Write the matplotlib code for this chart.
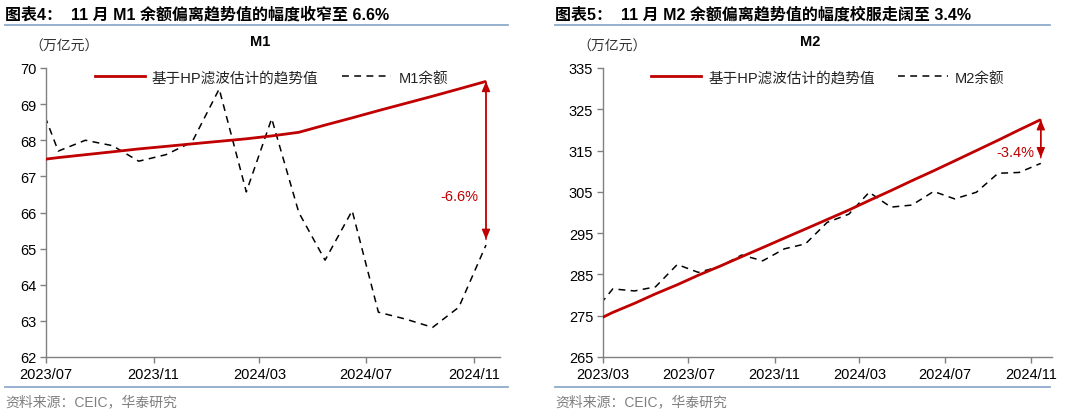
import matplotlib
matplotlib.use("Agg")
import matplotlib.pyplot as plt
import matplotlib.dates as mdates
from matplotlib.lines import Line2D
import numpy as np
import pandas as pd

plt.rcParams['font.family'] = ['Liberation Sans', 'Noto Sans CJK SC', 'DejaVu Sans']
plt.rcParams['axes.unicode_minus'] = False

# ---------------- data ----------------
m1_months = ['2023-06', '2023-07', '2023-08', '2023-09', '2023-10', '2023-11', '2023-12',
             '2024-01', '2024-02', '2024-03', '2024-04', '2024-05', '2024-06', '2024-07',
             '2024-08', '2024-09', '2024-10', '2024-11']
m1_balance = [69.6, 67.7, 68.0, 67.85, 67.42, 67.6, 67.95,
              69.42, 66.57, 68.6, 66.0, 64.68, 66.05, 63.24,
              63.05, 62.82, 63.38, 65.1]
m1_trend = [67.43, 67.52, 67.60, 67.68, 67.76, 67.83, 67.90,
            67.97, 68.04, 68.12, 68.22, 68.42, 68.62, 68.82,
            69.02, 69.22, 69.42, 69.63]

m2_months = ['2023-02', '2023-03', '2023-04', '2023-05', '2023-06', '2023-07', '2023-08',
             '2023-09', '2023-10', '2023-11', '2023-12', '2024-01', '2024-02', '2024-03',
             '2024-04', '2024-05', '2024-06', '2024-07', '2024-08', '2024-09', '2024-10',
             '2024-11']
m2_balance = [275.7, 281.5, 281.0, 282.0, 287.4, 285.5, 286.9,
              289.7, 288.3, 291.2, 292.4, 297.6, 299.6, 304.9,
              301.3, 301.8, 305.1, 303.3, 304.9, 309.5, 309.7,
              311.9]
m2_trend = [273.5, 275.8, 278.0, 280.3, 282.5, 284.8, 287.0,
            289.3, 291.5, 293.8, 296.0, 298.3, 300.6, 302.9,
            305.3, 307.7, 310.1, 312.5, 315.0, 317.5, 320.0,
            322.5]

m1_gap_label = '-6.6%'
m2_gap_label = '-3.4%'

RED = '#C00000'
GRID_GRAY = '#808080'
LINE_BLUE = '#8eaacb'


def mid_month(months):
    return pd.to_datetime([m + '-15' for m in months])


fig = plt.figure(figsize=(10.8, 4.14), dpi=100)
W, H = 1080, 414


def px_axes(x0, y0, x1, y1):
    return fig.add_axes([x0 / W, 1 - y1 / H, (x1 - x0) / W, (y1 - y0) / H])


def style_axes(ax):
    for s in ['top', 'right']:
        ax.spines[s].set_visible(False)
    for s in ['left', 'bottom']:
        ax.spines[s].set_color(GRID_GRAY)
        ax.spines[s].set_linewidth(1.0)
    ax.tick_params(axis='both', direction='out', length=4, width=1.0,
                   color=GRID_GRAY, labelsize=10.5, labelcolor='black')
    ax.tick_params(axis='x', pad=3)
    ax.tick_params(axis='y', pad=3)
    ax.xaxis.set_major_locator(mdates.MonthLocator(bymonth=[3, 7, 11]))
    ax.xaxis.set_major_formatter(mdates.DateFormatter('%Y/%m'))


def draw_panel(ax, months, bal, trend, name, gap_label, ylim, yticks, xlim,
               label_pos, shrinkB):
    x = mid_month(months)
    ax.plot(x, trend, color=RED, lw=2.0, solid_capstyle='butt', zorder=3)
    ax.plot(x, bal, color='black', lw=1.1, linestyle=(0, (4.5, 3.5)), zorder=2)
    ax.set_xlim(pd.Timestamp(xlim[0]), pd.Timestamp(xlim[1]))
    ax.set_ylim(*ylim)
    ax.set_yticks(yticks)
    style_axes(ax)
    ax.annotate('', xy=(x[-1], bal[-1]), xytext=(x[-1], trend[-1]),
                arrowprops=dict(arrowstyle='-|>,head_length=0.6,head_width=0.25',
                                color=RED, lw=1.0, shrinkA=0, shrinkB=shrinkB),
                zorder=4)
    ax.annotate('', xy=(x[-1], trend[-1]), xytext=(x[-1], bal[-1]),
                arrowprops=dict(arrowstyle='-|>,head_length=0.6,head_width=0.25',
                                color=RED, lw=1.0, shrinkA=shrinkB, shrinkB=0),
                zorder=4)
    ax.text(pd.Timestamp(label_pos[0]), label_pos[1], gap_label, color=RED,
            fontsize=10.5, ha='center', va='center', zorder=5)
    handles = [Line2D([], [], color=RED, lw=2.0),
               Line2D([], [], color='black', lw=1.1, linestyle=(0, (4.5, 3.5)))]
    labels = ['基于HP滤波估计的趋势值', name + '余额']
    leg = ax.legend(handles, labels, loc='upper left', bbox_to_anchor=(0.095, 1.012),
                    ncol=2, frameon=False, fontsize=10.5, handlelength=3.4,
                    handletextpad=0.5, columnspacing=1.6, borderaxespad=0)
    for t in leg.get_texts():
        t.set_color('#222222')


# left panel
ax1 = px_axes(46, 69, 500, 358)
draw_panel(ax1, m1_months, m1_balance, m1_trend, 'M1', m1_gap_label,
           (62, 70), np.arange(62, 71, 1), ('2023-07-01', '2024-12-01'),
           ('2024-10-15', 66.45), 4)

# right panel
ax2 = px_axes(603, 69, 1052, 358)
draw_panel(ax2, m2_months, m2_balance, m2_trend, 'M2', m2_gap_label,
           (265, 335), np.arange(265, 336, 10), ('2023-03-01', '2024-12-01'),
           ('2024-10-10', 314.7), 4)

# headers / titles
def ftext(xp, yp, s, **kw):
    fig.text(xp / W, 1 - yp / H, s, **kw)

ftext(5, 15, '图表4：  11 月 M1 余额偏离趋势值的幅度收窄至 6.6%', fontsize=11.5,
      fontweight='bold', ha='left', va='center')
ftext(555, 15, '图表5：  11 月 M2 余额偏离趋势值的幅度校服走阔至 3.4%', fontsize=11.5,
      fontweight='bold', ha='left', va='center')

for (a, b) in [(5, 508), (555, 1050)]:
    fig.add_artist(Line2D([a / W, b / W], [1 - 26 / H, 1 - 26 / H], color=LINE_BLUE, lw=1.3))
    fig.add_artist(Line2D([a / W, b / W], [1 - 388 / H, 1 - 388 / H], color=LINE_BLUE, lw=1.3))

ftext(260, 42, 'M1', fontsize=10.5, fontweight='bold', ha='center', va='center')
ftext(810, 42, 'M2', fontsize=10.5, fontweight='bold', ha='center', va='center')
ftext(64, 47, '（万亿元）', fontsize=10, ha='center', va='center', color='#333333')
ftext(612, 47, '（万亿元）', fontsize=10, ha='center', va='center', color='#333333')

ftext(5, 402, '资料来源：CEIC，华泰研究', fontsize=10, ha='left', va='center', color='#7f7f7f')
ftext(555, 402, '资料来源：CEIC，华泰研究', fontsize=10, ha='left', va='center', color='#7f7f7f')

fig.savefig('out.png', dpi=100, facecolor='white')
